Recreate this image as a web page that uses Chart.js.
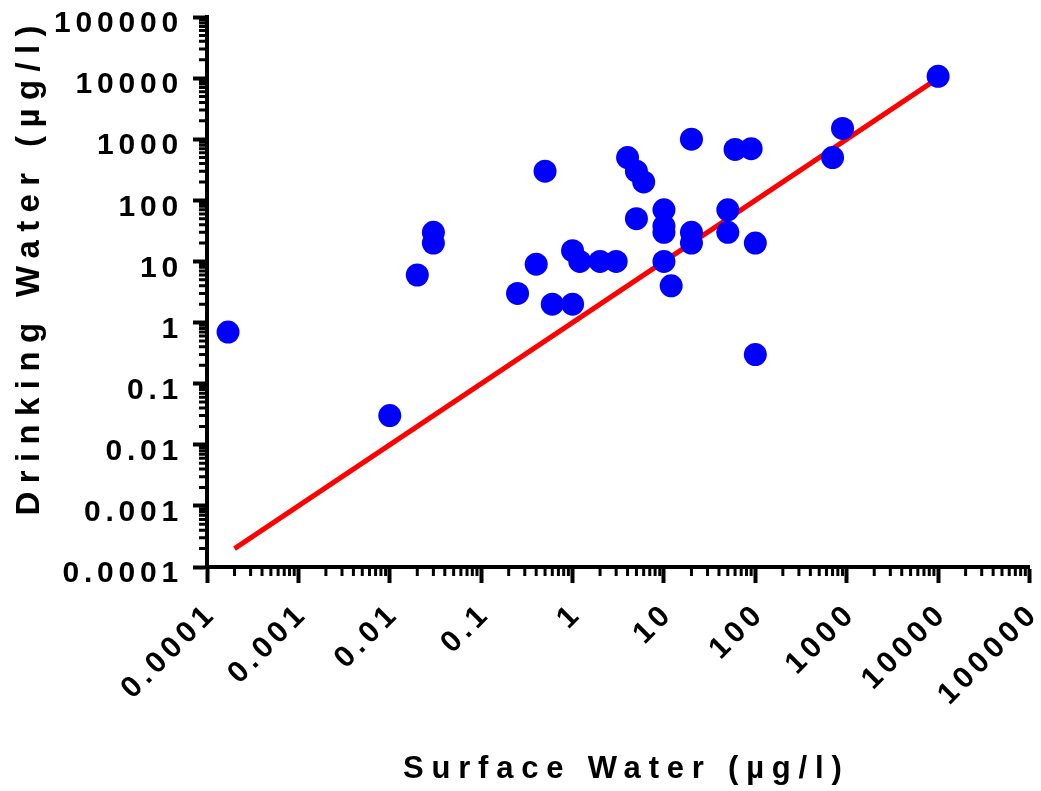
<!DOCTYPE html>
<html>
<head>
<meta charset="utf-8">
<script src="https://cdn.jsdelivr.net/npm/chart.js@4.4.0/dist/chart.umd.min.js"></script>
<style>
  html, body { margin: 0; padding: 0; background: #fff; }
  canvas { display: block; }
</style>
</head>
<body>
<canvas id="chart" width="1041" height="791"></canvas>
<script>
// concentrations, µg/l
const surfaceWater = [0.00017, 0.01, 0.02, 0.03, 0.03, 0.25, 0.4, 0.5, 0.6, 1, 1, 1.2, 2, 3, 4, 5, 6, 5,
    10, 10, 10, 10, 12, 20, 20, 20, 50, 50, 60, 90, 100, 100, 700, 900, 10000]
const drinkingWater = [0.7, 0.03, 6, 30, 20, 3, 9, 300, 2, 2, 15, 10, 10, 10, 500, 300, 200, 50,
    70, 38, 30, 10, 4, 1000, 30, 20, 70, 30, 680, 700, 20, 0.3, 500, 1500, 10700]

// 1:1 line
const lineX = [0.0002, 10000]
const lineY = [0.0002, 10000]

const xTicks = [0.0001, 0.001, 0.01, 0.1, 1, 10, 100, 1000, 10000, 100000]
const xTickLabels = ['0.0001', '0.001', '0.01', '0.1', '1', '10', '100', '1000', '10000', '100000']
const yTicks = [0.0001, 0.001, 0.01, 0.1, 1, 10, 100, 1000, 10000, 100000]
const yTickLabels = ['0.0001', '0.001', '0.01', '0.1', '1', '10', '100', '1000', '10000', '100000']

const family = "'Liberation Sans', Arial, sans-serif"
const tickFont = { family, size: 30, weight: 'bold' }

function minorTicks(decades) {
    let out = []
    for (let i = 0; i < decades.length - 1; i++)
        for (let m = 2; m <= 9; m++) out.push(m * decades[i])
    return out
}

const axisStyle = {
    id: 'axisStyle',
    beforeDraw(chart) {
        const ctx = chart.ctx
        ctx.letterSpacing = '4.8px'
        for (const id of ['x', 'y']) {
            const scale = chart.scales[id]
            if (scale._patched) continue
            const drawTitle = scale.drawTitle
            const sp = id === 'x' ? '7.8px' : '8.4px'
            const dx = id === 'x' ? 8 : 0
            scale.drawTitle = function () {
                ctx.save()
                ctx.letterSpacing = sp
                ctx.translate(dx, 0)
                drawTitle.call(this)
                ctx.restore()
            }
            scale._patched = true
        }
    },
    afterDraw(chart) {
        const ctx = chart.ctx
        const { left, bottom } = chart.chartArea
        ctx.save()
        ctx.strokeStyle = '#000'
        ctx.lineWidth = 3
        ctx.beginPath()
        for (const v of minorTicks(xTicks)) {
            const px = chart.scales.x.getPixelForValue(v)
            ctx.moveTo(px, bottom)
            ctx.lineTo(px, bottom + 9)
        }
        for (const v of minorTicks(yTicks)) {
            const py = chart.scales.y.getPixelForValue(v)
            ctx.moveTo(left, py)
            ctx.lineTo(left - 8, py)
        }
        ctx.stroke()
        ctx.restore()
    }
}

let points = surfaceWater.map((x, i) => ({ x: x, y: drinkingWater[i] }))
let line = lineX.map((x, i) => ({ x: x, y: lineY[i] }))

new Chart(document.getElementById('chart').getContext('2d'), {
    type: 'scatter',
    data: {
        datasets: [{
            data: points,
            backgroundColor: '#0000ff',
            borderWidth: 0,
            pointRadius: 11.5,
            pointHoverRadius: 11.5
        }, {
            data: line,
            showLine: true,
            borderColor: '#ff0000',
            borderWidth: 5,
            pointRadius: 0,
            fill: false
        }]
    },
    options: {
        responsive: false,
        animation: false,
        events: [],
        layout: { padding: { left: 0, right: 9, top: 17, bottom: 0 } },
        plugins: { legend: { display: false }, tooltip: { enabled: false } },
        scales: {
            x: {
                type: 'logarithmic',
                min: 0.0001,
                max: 100000,
                afterBuildTicks: s => { s.ticks = xTicks.map(v => ({ value: v, major: true })) },
                afterFit: s => { s.height = 224; s.paddingLeft = 0; s.paddingRight = 0 },
                grid: { drawOnChartArea: false, tickLength: 16, tickWidth: 4, tickColor: '#000' },
                border: { display: true, color: '#000', width: 4 },
                ticks: {
                    autoSkip: false, minRotation: 45, maxRotation: 45,
                    padding: 13, labelOffset: 5, color: '#000', font: tickFont,
                    callback: (v, i) => xTickLabels[i]
                },
                title: {
                    display: true, text: 'Surface Water (µg/l)', color: '#000',
                    font: { family, size: 31, weight: 'bold' },
                    padding: { top: 0, bottom: 3 }
                }
            },
            y: {
                type: 'logarithmic',
                min: 0.0001,
                max: 100000,
                afterBuildTicks: s => { s.ticks = yTicks.map(v => ({ value: v, major: true })) },
                afterFit: s => { s.width = 207; s.paddingTop = 0; s.paddingBottom = 0 },
                grid: { drawOnChartArea: false, tickLength: 14, tickWidth: 4, tickColor: '#000' },
                border: { display: true, color: '#000', width: 4 },
                ticks: {
                    autoSkip: false, padding: 10, labelOffset: 7, color: '#000', font: tickFont,
                    callback: (v, i) => yTickLabels[i]
                },
                title: {
                    display: true, text: 'Drinking Water (µg/l)', color: '#000', align: 'end',
                    font: { family, size: 33, weight: 'bold' },
                    padding: { top: 10, bottom: 0 }
                }
            }
        }
    },
    plugins: [axisStyle]
})
</script>
</body>
</html>
